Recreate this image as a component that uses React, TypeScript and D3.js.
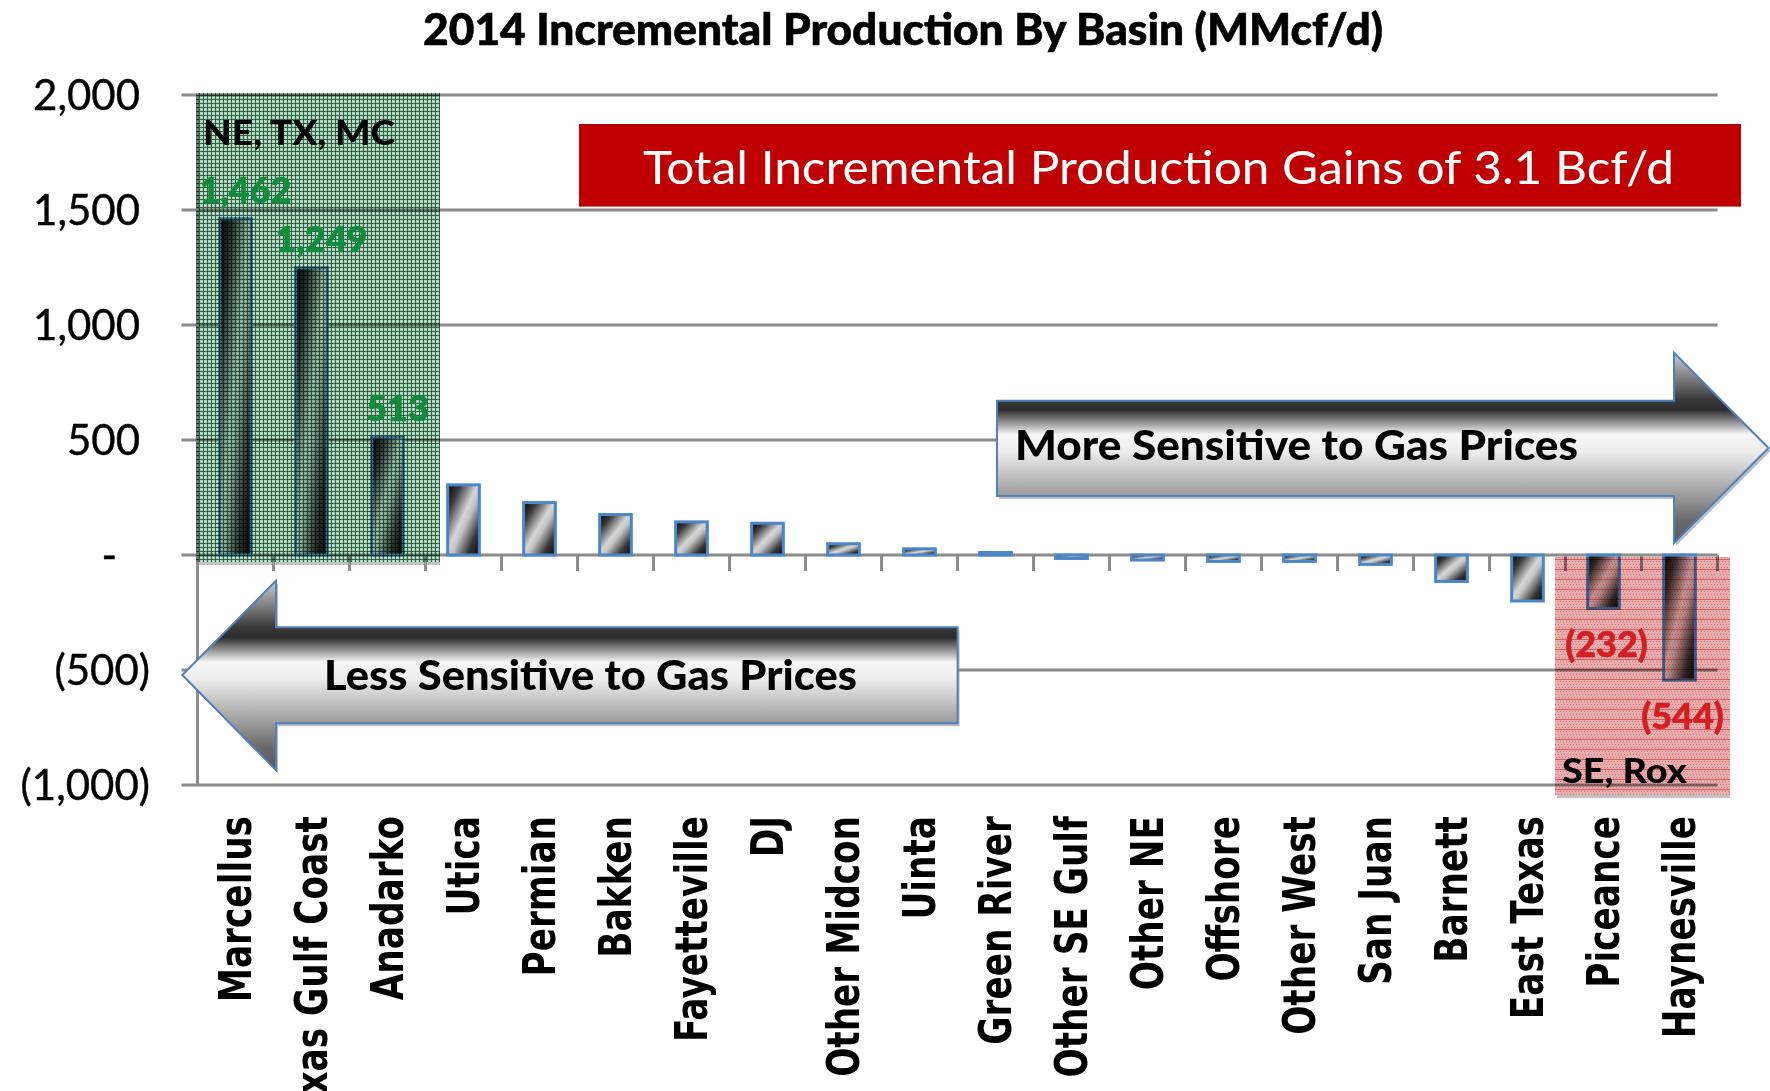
import React from "react";
import * as d3 from "d3";

const categories = [
  "Marcellus", "Texas Gulf Coast", "Anadarko", "Utica", "Permian", "Bakken",
  "Fayetteville", "DJ", "Other Midcon", "Uinta", "Green River", "Other SE Gulf",
  "Other NE", "Offshore", "Other West", "San Juan", "Barnett", "East Texas",
  "Piceance", "Haynesville",
];
const values = [
  1462, 1249, 513, 305, 228, 176, 144, 138, 49, 27, 11, -15,
  -22, -28, -28, -41, -115, -200, -232, -544,
];
const yTicks = [-1000, -500, 0, 500, 1000, 1500, 2000];
const labeledCategories = ["Marcellus", "Texas Gulf Coast", "Anadarko", "Piceance", "Haynesville"];

const titleText = "2014 Incremental Production By Basin (MMcf/d)";
const bannerText = "Total Incremental Production Gains of 3.1 Bcf/d";
const moreText = "More Sensitive to Gas Prices";
const lessText = "Less Sensitive to Gas Prices";
const groupHighText = "NE, TX, MC";
const groupLowText = "SE, Rox";

const W = 1770;
const H = 1091;
const PL = 197.5;
const PR = 1717.5;
const PT = 95;
const PB = 785;

const FONT = "Lato, 'Open Sans', sans-serif";

export default function App() {
  const x = d3.scaleBand<string>().domain(categories).range([PL, PR]).padding(0);
  const y = d3.scaleLinear().domain([-1000, 2000]).range([PB, PT]);
  const bw = x.bandwidth();
  const barW = bw * 0.417;
  const fmt = d3.format(",");
  const tickLabel = (v: number) => (v === 0 ? "-" : v < 0 ? `(${fmt(-v)})` : fmt(v));
  const tickEnd = (v: number) => (v === 0 ? 117 : v < 0 ? 150 : 140);
  const y0 = y(0);

  const rightArrow = `M997,400.7 L1674,400.7 L1674,352.7 L1768.5,448 L1674,543 L1674,496 L997,496 Z`;
  const leftArrow = `M957.6,627.3 L276,627.3 L276,580.7 L182.3,675 L276,770 L276,723.3 L957.6,723.3 Z`;

  const gridColor = "#8c8c8c";

  return (
    <svg
      width={W}
      height={H}
      viewBox={`0 0 ${W} ${H}`}
      style={{ position: "absolute", left: 0, top: 0, background: "#fff" }}
    >
      <defs>
        <linearGradient id="barGrad" x1="0" y1="0" x2="1" y2="1">
          <stop offset="0" stopColor="#050505" />
          <stop offset="0.2" stopColor="#3a3a3a" />
          <stop offset="0.47" stopColor="#d6d6d6" />
          <stop offset="0.56" stopColor="#c4c4c4" />
          <stop offset="0.8" stopColor="#363636" />
          <stop offset="1" stopColor="#0a0a0a" />
        </linearGradient>
        <linearGradient id="arrowGrad" x1="0" y1="0" x2="0" y2="1">
          <stop offset="0" stopColor="#cfcfcf" />
          <stop offset="0.25" stopColor="#383838" />
          <stop offset="0.3" stopColor="#2c2c2c" />
          <stop offset="0.43" stopColor="#f6f6f6" />
          <stop offset="0.52" stopColor="#ededed" />
          <stop offset="0.75" stopColor="#9c9c9c" />
          <stop offset="0.88" stopColor="#6a6a6a" />
          <stop offset="1" stopColor="#5a5a5a" />
        </linearGradient>
        <pattern id="greenPat" width="4" height="4" patternUnits="userSpaceOnUse">
          <rect width="4" height="4" fill="#a2dab8" />
          <rect x="3" y="0" width="1" height="4" fill="#3c5c4a" />
          <rect x="0" y="3" width="4" height="1" fill="#3c5c4a" />
          <rect x="1" y="1" width="1" height="1" fill="#eef9f2" />
        </pattern>
        <pattern id="redPat" width="3" height="10" patternUnits="userSpaceOnUse">
          <rect width="3" height="10" fill="#eeaaaa" />
          <rect x="0" y="1" width="1" height="1" fill="#a88888" />
          <rect x="1" y="4" width="1" height="1" fill="#a88888" />
          <rect x="2" y="7" width="1" height="1" fill="#a88888" />
          <rect x="0" y="9" width="3" height="1" fill="#dc5a5a" />
        </pattern>
      </defs>

      {/* Title */}
      <text
        x={423}
        y={45}
        fontFamily={FONT}
        fontWeight={900}
        fontSize={44}
        textLength={960}
        lengthAdjust="spacingAndGlyphs"
        fill="#000"
        stroke="#000"
        strokeWidth={0.6}
      >
        {titleText}
      </text>

      {/* Gridlines and y labels */}
      {yTicks.map((t) => (
        <g key={t}>
          <line x1={181.5} x2={PR} y1={y(t)} y2={y(t)} stroke={gridColor} strokeWidth={3} />
          <text
            x={tickEnd(t)}
            y={y(t) + 15}
            textAnchor="end"
            fontFamily={FONT}
            fontSize={42}
            fill="#000"
            stroke="#000"
            strokeWidth={0.4}
          >
            {tickLabel(t)}
          </text>
        </g>
      ))}

      {/* vertical axis */}
      <line x1={PL} x2={PL} y1={PT} y2={PB} stroke={gridColor} strokeWidth={3} />
      {/* category ticks */}
      {categories.map((c) => (
        <line
          key={"t" + c}
          x1={(x(c) as number) + bw}
          x2={(x(c) as number) + bw}
          y1={y0}
          y2={y0 + 16}
          stroke={gridColor}
          strokeWidth={3}
        />
      ))}

      {/* Bars */}
      {categories.map((c, i) => {
        const v = values[i];
        const bx = (x(c) as number) + (bw - barW) / 2;
        const top = Math.min(y(v), y0);
        const h = Math.abs(y(v) - y0);
        return (
          <rect
            key={c}
            x={bx}
            y={top}
            width={barW}
            height={Math.max(h, 0.5)}
            fill="url(#barGrad)"
            stroke="#4a86c8"
            strokeWidth={3}
          />
        );
      })}

      {/* Overlay boxes */}
      <rect x={198} y={562} width={242} height={3} fill="#999" opacity={0.6} />
      <rect
        x={196}
        y={93}
        width={244}
        height={469}
        fill="url(#greenPat)"
        style={{ mixBlendMode: "multiply" }}
      />
      <rect x={1557} y={795} width={173} height={3} fill="#999" opacity={0.6} />
      <rect
        x={1555}
        y={557}
        width={175}
        height={238}
        fill="url(#redPat)"
        style={{ mixBlendMode: "multiply" }}
      />

      {/* Group labels */}
      <text
        x={203}
        y={145}
        fontFamily={FONT}
        fontWeight={900}
        fontSize={34}
        textLength={192}
        lengthAdjust="spacingAndGlyphs"
        fill="#000"
      >
        {groupHighText}
      </text>
      <text
        x={1562}
        y={783}
        fontFamily={FONT}
        fontWeight={900}
        fontSize={35}
        textLength={125}
        lengthAdjust="spacingAndGlyphs"
        fill="#000"
      >
        {groupLowText}
      </text>

      {/* Data labels */}
      {categories.map((c, i) => {
        if (!labeledCategories.includes(c)) return null;
        const v = values[i];
        const cx = (x(c) as number) + bw / 2;
        const pos = v >= 0;
        return (
          <text
            key={"l" + c}
            x={cx + (pos ? 10 : 3)}
            y={pos ? y(v) - 16 : y(v) + 49}
            textAnchor="middle"
            fontFamily={FONT}
            fontWeight={900}
            fontSize={36}
            fill={pos ? "#0f8c3c" : "#d41e24"}
            stroke={pos ? "#0f8c3c" : "#d41e24"}
            strokeWidth={0.6}
          >
            {pos ? fmt(v) : `(${fmt(-v)})`}
          </text>
        );
      })}

      {/* Banner */}
      <rect x={579} y={124} width={1162} height={82.6} fill="#c00000" />
      <text
        x={643}
        y={184}
        fontFamily={FONT}
        fontSize={46}
        textLength={1031}
        lengthAdjust="spacingAndGlyphs"
        fill="#fff"
      >
        {bannerText}
      </text>

      {/* Arrows */}
      <path d={rightArrow} transform="translate(2,3)" fill="#888" opacity={0.55} />
      <path d={rightArrow} fill="url(#arrowGrad)" stroke="#4f81bd" strokeWidth={2} />
      <text
        x={1015}
        y={460}
        fontFamily={FONT}
        fontWeight={900}
        fontSize={41}
        textLength={563}
        lengthAdjust="spacingAndGlyphs"
        fill="#000"
      >
        {moreText}
      </text>

      <path d={leftArrow} transform="translate(2,3)" fill="#888" opacity={0.55} />
      <path d={leftArrow} fill="url(#arrowGrad)" stroke="#4f81bd" strokeWidth={2} />
      <text
        x={324}
        y={690}
        fontFamily={FONT}
        fontWeight={900}
        fontSize={41}
        textLength={533}
        lengthAdjust="spacingAndGlyphs"
        fill="#000"
      >
        {lessText}
      </text>

      {/* Category labels */}
      {categories.map((c) => {
        const cx = (x(c) as number) + bw / 2;
        return (
          <text
            key={"c" + c}
            transform={`translate(${cx},816) rotate(-90) scale(0.78,1)`}
            x={0}
            y={0}
            dy="0.35em"
            textAnchor="end"
            fontFamily="'DejaVu Sans', Verdana, sans-serif"
            fontWeight={700}
            fontSize={44}
            fill="#000"
          >
            {c}
          </text>
        );
      })}
    </svg>
  );
}
